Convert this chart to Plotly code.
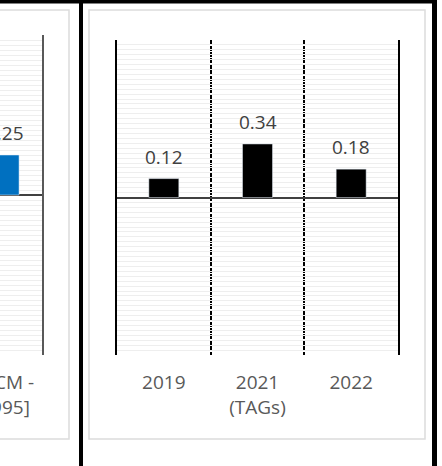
import plotly.graph_objects as go

# left (partly visible) panel
left_cats = ["[ACM -<br>1995]"]
left_vals = [0.25]

# right panel
years = ["2019", "2021<br>(TAGs)", "2022"]
ratios = [0.12, 0.34, 0.18]

W, H = 442, 466


def px(x):
    return x / W


def py(y):
    return 1 - y / H


font = "Open Sans"
fig = go.Figure()

fig.add_trace(go.Bar(x=left_cats, y=left_vals, marker_color="#0070C0",
                     width=0.38, xaxis="x", yaxis="y", hoverinfo="skip"))
fig.add_trace(go.Bar(x=years, y=ratios, marker_color="#000000",
                     width=0.32, xaxis="x2", yaxis="y2", hoverinfo="skip"))

annots = []
for i, v in enumerate(left_vals):
    annots.append(dict(x=i, y=v, xref="x", yref="y", text=f"{v:.2f}",
                       showarrow=False, yanchor="bottom", yshift=7,
                       font=dict(family=font, size=19, color="#404040")))
for i, v in enumerate(ratios):
    annots.append(dict(x=i, y=v, xref="x2", yref="y2", text=f"{v:.2f}",
                       showarrow=False, yanchor="bottom", yshift=7,
                       font=dict(family=font, size=19, color="#404040")))

grid_y = dict(range=[-1, 1], dtick=1 / 32, showticklabels=False,
              gridcolor="#eeeeee", gridwidth=1, zeroline=True,
              zerolinecolor="#404040", zerolinewidth=2, fixedrange=True,
              automargin=False)

shapes = [
    # cards
    dict(type="rect", xref="paper", yref="paper", x0=px(-10), x1=px(69),
         y0=py(439), y1=py(10), line=dict(color="#dcdcdc", width=1.5)),
    dict(type="rect", xref="paper", yref="paper", x0=px(89), x1=px(425),
         y0=py(439), y1=py(10), line=dict(color="#dcdcdc", width=1.5)),
    # black frame
    dict(type="line", xref="paper", yref="paper", x0=0, x1=px(437),
         y0=py(1.5), y1=py(1.5), line=dict(color="black", width=4)),
    dict(type="line", xref="paper", yref="paper", x0=px(81), x1=px(81),
         y0=0, y1=1, line=dict(color="black", width=4)),
    dict(type="line", xref="paper", yref="paper", x0=px(434.5), x1=px(434.5),
         y0=0, y1=1, line=dict(color="black", width=5)),
]

fig.update_layout(
    width=W, height=H,
    margin=dict(l=0, r=0, t=0, b=0, autoexpand=False),
    paper_bgcolor="white", plot_bgcolor="white",
    showlegend=False,
    bargap=0,
    xaxis=dict(domain=[0, px(42)], range=[-0.0676, 0.5], type="category",
               tickson="boundaries", ticks="", showgrid=False,
               ticklabelstandoff=14, automargin=False,
               tickfont=dict(family=font, size=19, color="#595959")),
    yaxis=dict(domain=[py(355), py(35)], anchor="x", side="right",
               showline=True, linecolor="#595959", linewidth=2, **grid_y),
    xaxis2=dict(domain=[px(117), px(398)], range=[-0.5, 2.5],
                type="category", tickson="boundaries", ticks="",
                showgrid=True, gridcolor="#000000", gridwidth=2,
                griddash="5px,1px", ticklabelstandoff=14, anchor="y2",
                automargin=False,
                tickfont=dict(family=font, size=19, color="#595959")),
    yaxis2=dict(domain=[py(355), py(40)], anchor="x2", showline=True,
                mirror=True, linecolor="#000000", linewidth=2, **grid_y),
    annotations=annots,
    shapes=shapes,
)

# page has a default body margin; drop it so the figure sits at 0,0
fig.write_html(
    "out.html",
    config={"displayModeBar": False, "staticPlot": True},
    post_script="document.body.style.margin = '0';"
                "document.body.style.overflow = 'hidden';",
)
